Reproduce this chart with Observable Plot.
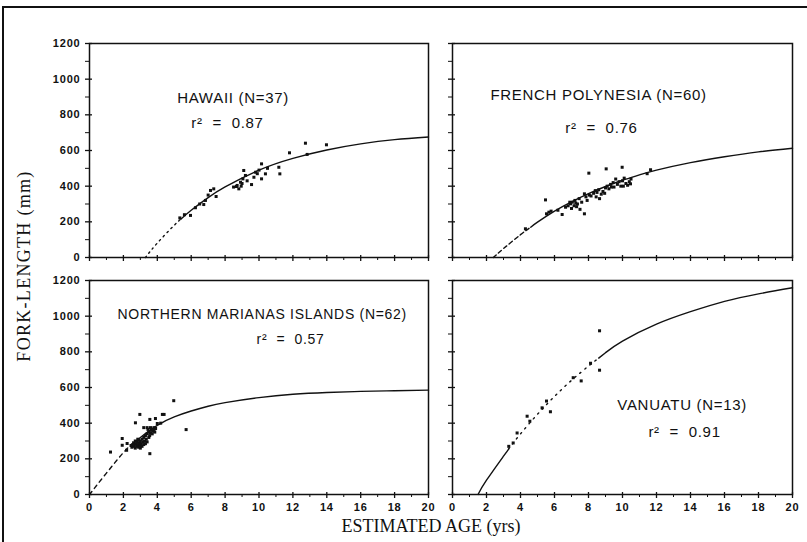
<!DOCTYPE html>
<html><head><meta charset="utf-8">
<script src="https://cdn.jsdelivr.net/npm/d3@7"></script>
<script src="https://cdn.jsdelivr.net/npm/@observablehq/plot@0.6"></script>
<style>
body{margin:0;background:#fff;}
#wrap{position:relative;width:807px;height:542px;overflow:hidden;background:#fff;color:#111;}
.panel{position:absolute;}
.border{position:absolute;left:2px;top:6px;width:840px;height:600px;border-top:2px solid #111;border-left:2px solid #111;}
.ytitle{position:absolute;left:24px;top:266px;transform:translate(-50%,-50%) rotate(-90deg);font-family:"Liberation Serif",serif;font-size:18px;line-height:18px;letter-spacing:1.3px;white-space:nowrap;z-index:5;}
.xtitle{position:absolute;left:431px;top:526px;transform:translate(-50%,-50%);font-family:"Liberation Serif",serif;font-size:18px;line-height:18px;white-space:nowrap;z-index:5;}
g[aria-label$="tick label"] text{letter-spacing:0.8px;}
g[aria-label="text"] text{letter-spacing:0.7px;}
</style>
</head><body>
<div id="wrap">
  <div class="border"></div>
  <div class="ytitle">FORK-LENGTH (mm)</div>
  <div class="xtitle">ESTIMATED AGE (yrs)</div>
</div>
<script>
// axis ticks
const yTicks = [0, 200, 400, 600, 800, 1000, 1200];
const yMinor = [100, 300, 500, 700, 900, 1100];
const xTicks = [0, 2, 4, 6, 8, 10, 12, 14, 16, 18, 20];
const xMinor = [1, 3, 5, 7, 9, 11, 13, 15, 17, 19];

// HAWAII
const hawaiiAge = [5.33,5.96,6.25,6.74,6.84,7.14,7.33,7.47,8.71,8.81,8.67,8.91,9.1,9.2,9.05,9.56,9.8,10.15,10.15,10.38,11.17,11.23,11.8,12.74,12.84,13.98,5.6,6.5,7.0,8.5,9.0,9.3,9.9,10.0,10.5,8.95,9.7];
const hawaiiLen = [222,236,279,297,320,376,385,342,404,385,398,422,488,460,441,409,478,525,441,469,506,469,587,641,578,632,240,300,350,395,415,430,470,490,500,400,450];
const hawaiiExtrapAge = [3.3, 4, 5, 5.4];
const hawaiiExtrapLen = [0, 81, 181, 216];
const hawaiiFitAge = [5.4, 6, 7, 8, 10, 12, 14, 16, 18, 20];
const hawaiiFitLen = [216, 265, 336, 396, 490, 556, 603, 637, 661, 676];
const hawaiiText = ["HAWAII (N=37)", "r\u00b2  =  0.87"];
const hawaiiTextAge = [8.47, 8.14];
const hawaiiTextLen = [892, 754];

// FRENCH POLYNESIA
const fpAge = [4.29,5.47,5.53,5.67,5.8,6.2,6.45,6.65,6.8,6.9, 6.94,7.0,7.05,7.15,7.2,7.25,7.3,7.35,7.45,7.5, 7.6,7.76,7.76,7.85,7.92,8.02,8.05,8.15,8.3,8.4, 8.45,8.5,8.6,8.65,8.75,8.85,8.95,9.0,9.04,9.1, 9.2,9.3,9.35,9.45,9.5,9.6,9.7,9.8,9.9,9.98, 10.0,10.05,10.1,10.2,10.3,10.4,10.47,10.5,11.45,11.65];
const fpLen = [161,323,245,254,260,265,241,282,290,310, 301,275,310,290,320,305,285,300,330,270, 310,245,357,340,320,473,350,345,360,375, 340,365,380,330,355,370,360,390,497,400, 385,410,395,420,395,440,410,425,400,506, 430,400,445,415,405,425,413,440,470,492];
const fpExtrapAge = [2.4, 3, 4, 4.6];
const fpExtrapLen = [0, 50, 128, 170];
const fpFitAge = [4.6, 5, 6, 7, 8, 9, 10, 11, 12, 14, 16, 18, 20];
const fpFitLen = [170, 198, 260, 312, 358, 398, 433, 463, 490, 532, 565, 592, 613];
const fpText = ["FRENCH POLYNESIA (N=60)", "r\u00b2  =  0.76"];
const fpTextAge = [8.59, 8.76];
const fpTextLen = [910, 726];

// NORTHERN MARIANAS ISLANDS
const nmAge = [1.24,1.93,1.93,2.22,2.19,2.71,2.97,3.56,3.56,3.89, 4.3,4.4,4.97,5.7,3.2,3.4,3.6,3.8,4.0,4.2, 2.5,2.55,2.6,2.6,2.65,2.7,2.7,2.75,2.8,2.8, 2.85,2.9,2.9,2.95,3.0,3.0,3.05,3.1,3.1,3.15, 3.2,3.2,3.25,3.3,3.3,3.35,3.4,3.4,3.5,3.5, 3.55,3.6,3.65,3.7,3.75,3.8,3.85,3.9,2.45,3.0, 2.85,3.45];
const nmLen = [238,314,276,286,248,402,449,229,421,426, 449,449,526,364,375,375,375,375,398,400, 265,280,270,290,275,260,300,285,270,295, 280,265,305,290,275,300,285,270,310,295, 280,320,300,285,330,310,295,340,320,350, 330,345,360,340,355,365,350,370,275,260, 310,365];
const nmExtrapAge = [0, 1, 2, 2.5];
const nmExtrapLen = [0, 120, 235, 280];
const nmFitAge = [2.5, 3, 4, 5, 6, 7, 8, 10, 12, 14, 16, 18, 20];
const nmFitLen = [280, 320, 388, 435, 468, 495, 515, 543, 562, 572, 578, 582, 585];
const nmText = ["NORTHERN MARIANAS ISLANDS (N=62)", "r\u00b2  =  0.57"];
const nmTextAge = [10.19, 11.86];
const nmTextLen = [1008, 868];

// VANUATU
const vanAge = [3.31,3.57,3.8,4.39,4.55,5.27,5.53,5.76,7.1,7.57,8.12,8.65,8.65];
const vanLen = [270,289,345,439,411,486,524,464,655,637,736,918,697];
const vanLowAge = [1.5, 2, 3, 3.3];
const vanLowLen = [0, 80, 215, 255];
const vanExtrapAge = [3.3, 4, 5, 6, 7, 8, 8.6];
const vanExtrapLen = [255, 340, 450, 550, 640, 720, 765];
const vanFitAge = [8.6, 9, 10, 12, 14, 16, 18, 20];
const vanFitLen = [765, 795, 860, 955, 1025, 1083, 1125, 1159];
const vanText = ["VANUATU (N=13)", "r\u00b2  =  0.91"];
const vanTextAge = [13.51, 13.65];
const vanTextLen = [501, 349];

const INK = "#111";

function panel(o) {
  const marks = [];
  for (const s of o.segments) {
    marks.push(Plot.line(d3.zip(s.age, s.len), {curve: "natural", stroke: INK, strokeWidth: 1.4, strokeDasharray: s.dash}));
  }
  marks.push(Plot.dot(d3.zip(o.age, o.len), {symbol: "square", r: 1.7, fill: INK, stroke: null}));
  marks.push(Plot.text(o.text, {text: d => d, x: o.textAge, y: o.textLen, fontSize: o.fontSize, fill: INK, fontFamily: "Liberation Sans"}));
  marks.push(Plot.frame({stroke: INK, strokeWidth: 1.5}));
  marks.push(Plot.axisY(yTicks, {tickSize: 7, insetLeft: 3, strokeWidth: 1.3, stroke: INK, fill: "none", label: null}));
  marks.push(Plot.axisY(yMinor, {tickSize: 4, strokeWidth: 1, stroke: INK, fill: "none", label: null}));
  marks.push(Plot.axisX(xTicks, {tickSize: 6, insetBottom: 2, strokeWidth: 1.3, stroke: INK, fill: "none", label: null}));
  marks.push(Plot.axisX(xMinor, {tickSize: 3, strokeWidth: 1, stroke: INK, fill: "none", label: null}));
  if (o.yLabels) marks.push(Plot.axisY(yTicks, {tickSize: 0, tickPadding: 9, tickFormat: "d", fontSize: 11, fontWeight: "bold", fill: INK, label: null}));
  if (o.xLabels) marks.push(Plot.axisX(xTicks, {tickSize: 0, tickPadding: 9, tickFormat: "d", fontSize: 11, fontWeight: "bold", fill: INK, label: null}));
  const svg = Plot.plot({
    width: o.w, height: o.h,
    marginLeft: o.ml, marginRight: o.mr, marginTop: o.mt, marginBottom: o.mb,
    x: {domain: [0, 20]},
    y: {domain: [0, 1200]},
    style: {background: "transparent", color: INK, fontFamily: "Liberation Sans", overflow: "visible"},
    marks
  });
  svg.classList.add("panel");
  svg.style.position = "absolute";
  svg.style.left = o.left + "px";
  svg.style.top = o.top + "px";
  document.getElementById("wrap").appendChild(svg);
}

panel({left: 0, top: 0, w: 440, h: 270, ml: 89, mr: 12, mt: 43, mb: 13, yLabels: true, xLabels: false,
  segments: [{age: hawaiiExtrapAge, len: hawaiiExtrapLen, dash: "1.5,4"}, {age: hawaiiFitAge, len: hawaiiFitLen, dash: null}],
  age: hawaiiAge, len: hawaiiLen, text: hawaiiText, textAge: hawaiiTextAge, textLen: hawaiiTextLen, fontSize: 15});
panel({left: 440, top: 0, w: 367, h: 270, ml: 12, mr: 15, mt: 43, mb: 13, yLabels: false, xLabels: false,
  segments: [{age: fpExtrapAge, len: fpExtrapLen, dash: "4,3"}, {age: fpFitAge, len: fpFitLen, dash: null}],
  age: fpAge, len: fpLen, text: fpText, textAge: fpTextAge, textLen: fpTextLen, fontSize: 15});
panel({left: 0, top: 270, w: 440, h: 272, ml: 89, mr: 12, mt: 10, mb: 48, yLabels: true, xLabels: true,
  segments: [{age: nmExtrapAge, len: nmExtrapLen, dash: "4,4"}, {age: nmFitAge, len: nmFitLen, dash: null}],
  age: nmAge, len: nmLen, text: nmText, textAge: nmTextAge, textLen: nmTextLen, fontSize: 14});
panel({left: 440, top: 270, w: 367, h: 272, ml: 12, mr: 15, mt: 10, mb: 48, yLabels: false, xLabels: true,
  segments: [{age: vanLowAge, len: vanLowLen, dash: null}, {age: vanExtrapAge, len: vanExtrapLen, dash: "1.5,5"}, {age: vanFitAge, len: vanFitLen, dash: null}],
  age: vanAge, len: vanLen, text: vanText, textAge: vanTextAge, textLen: vanTextLen, fontSize: 15});
</script>
</body></html>
